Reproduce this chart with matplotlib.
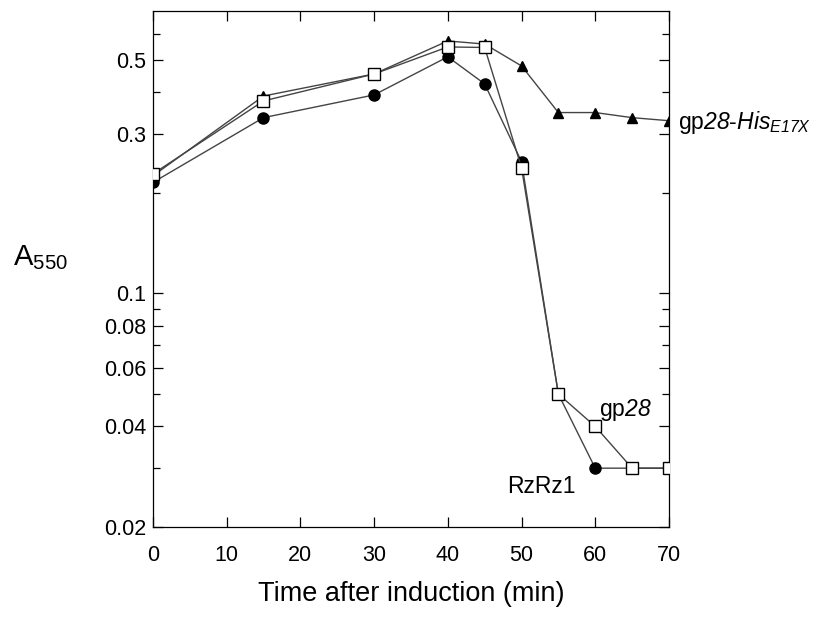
import matplotlib
matplotlib.use("Agg")
import matplotlib.pyplot as plt
from matplotlib.ticker import FixedLocator, FixedFormatter, NullFormatter

plt.rcParams['font.family'] = ['Liberation Sans', 'DejaVu Sans']
plt.rcParams['mathtext.fontset'] = 'custom'
plt.rcParams['mathtext.rm'] = 'Liberation Sans'
plt.rcParams['mathtext.it'] = 'Liberation Sans:italic'
# sf slot used for italic digits (mathtext forces digits upright in 'it')
plt.rcParams['mathtext.sf'] = 'Liberation Sans:italic'

# time after induction (min)
t_his = [0, 15, 30, 40, 45, 50, 55, 60, 65, 70]
a_his = [0.225, 0.390, 0.454, 0.570, 0.558, 0.480, 0.348, 0.348, 0.336, 0.329]

t_gp28 = [0, 15, 30, 40, 45, 50, 55, 60, 65, 70]
a_gp28 = [0.228, 0.377, 0.454, 0.547, 0.545, 0.238, 0.050, 0.040, 0.030, 0.030]

t_rz = [0, 15, 30, 40, 45, 50, 55, 60, 65, 70]
a_rz = [0.215, 0.336, 0.393, 0.511, 0.424, 0.248, 0.050, 0.030, 0.030, 0.030]

y_major = [0.02, 0.04, 0.06, 0.08, 0.1, 0.3, 0.5]
y_major_labels = ["0.02", "0.04", "0.06", "0.08", "0.1", "0.3", "0.5"]
y_minor = [0.03, 0.05, 0.07, 0.09, 0.2, 0.4, 0.6]
x_ticks = [0, 10, 20, 30, 40, 50, 60, 70]

fig = plt.figure(figsize=(8.31, 6.2), dpi=100)
ax = fig.add_axes([0.184, 0.15, 0.621, 0.832])

line_c = '#444444'
ax.plot(t_rz, a_rz, '-', color=line_c, lw=1.0, marker='o', ms=8,
        mfc='black', mec='black', zorder=3)
ax.plot(t_his, a_his, '-', color=line_c, lw=1.0, marker='^', ms=7,
        mfc='black', mec='black', zorder=4)
ax.plot(t_gp28, a_gp28, '-', color=line_c, lw=1.0, marker='s', ms=8,
        mfc='white', mec='black', mew=1.0, zorder=5)

ax.set_yscale('log')
ax.set_ylim(0.02, 0.7)
ax.set_xlim(0, 70)

ax.yaxis.set_major_locator(FixedLocator(y_major))
ax.yaxis.set_major_formatter(FixedFormatter(y_major_labels))
ax.yaxis.set_minor_locator(FixedLocator(y_minor))
ax.yaxis.set_minor_formatter(NullFormatter())
ax.xaxis.set_major_locator(FixedLocator(x_ticks))

ax.tick_params(which='both', direction='in', top=True, right=True,
               labelsize=15.5, width=0.9)
ax.tick_params(which='major', length=7)
ax.tick_params(which='minor', length=5)
ax.tick_params(axis='x', pad=13)
ax.tick_params(axis='y', pad=5)
for s in ax.spines.values():
    s.set_linewidth(0.9)

ax.set_xlabel("Time after induction (min)", fontsize=19.5, labelpad=11)
fig.text(0.016, 0.5726, r"A$_{550}$", fontsize=21, ha='left', va='baseline')

ax.text(1.018, 0.324, r"gp$\mathsf{28}$-$\mathsf{His}_{\mathsf{E17X}}$",
        transform=ax.get_yaxis_transform(), fontsize=16.5, va='center',
        ha='left', clip_on=False)
ax.text(60.5, 0.0429, r"gp$\mathsf{28}$", fontsize=16.5, ha='left',
        va='baseline')
ax.text(48.0, 0.0253, "RzRz1", fontsize=16.5, ha='left', va='baseline')

fig.savefig("out.png", dpi=100)
